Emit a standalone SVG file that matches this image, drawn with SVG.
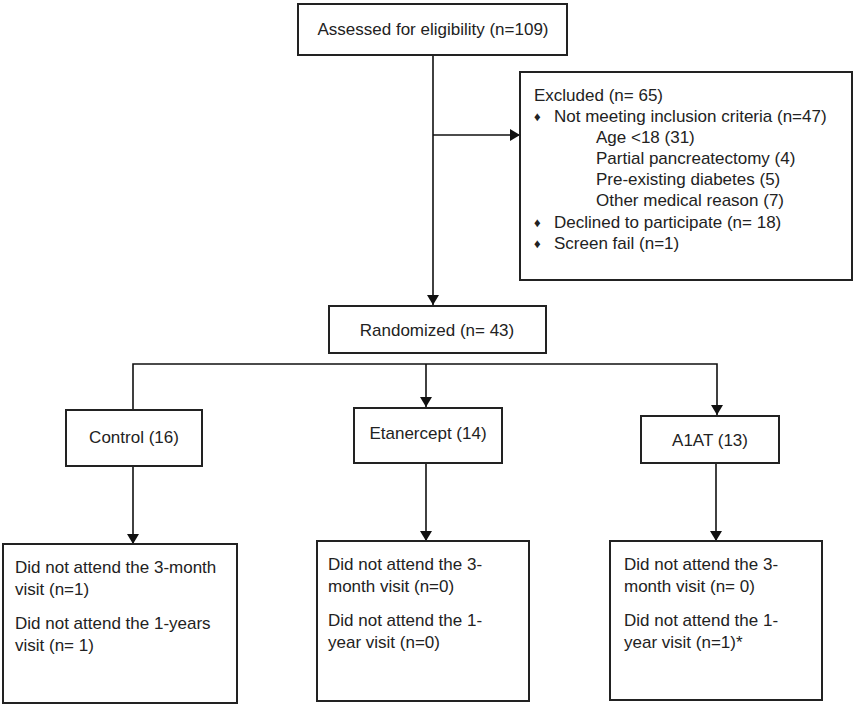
<svg xmlns="http://www.w3.org/2000/svg" width="856" height="708" viewBox="0 0 856 708">
<defs>
<marker id="ah" viewBox="0 0 10 12" refX="10" refY="6" markerWidth="10" markerHeight="12" markerUnits="userSpaceOnUse" orient="auto">
<path d="M0,0 L10,6 L0,12 Z" fill="#111"/>
</marker>
</defs>
<style>
.box{fill:#fff;stroke:#222;stroke-width:2}
.t{font-family:"Liberation Sans",Arial,sans-serif;font-size:17px;fill:#222}
.c{text-anchor:middle}
.b{font-size:13px}
.ln{fill:none;stroke:#111;stroke-width:1.6}
</style>
<rect width="856" height="708" fill="#fff"/>
<g id="connectors">
<line class="ln" x1="433" y1="55" x2="433" y2="305" marker-end="url(#ah)"/>
<line class="ln" x1="433" y1="135" x2="520" y2="135" marker-end="url(#ah)"/>
<polyline class="ln" points="133,409 133,364 717,364 717,415" marker-end="url(#ah)"/>
<line class="ln" x1="426" y1="364" x2="426" y2="407" marker-end="url(#ah)"/>
<line class="ln" x1="133" y1="466" x2="133" y2="544" marker-end="url(#ah)"/>
<line class="ln" x1="426" y1="463" x2="426" y2="541" marker-end="url(#ah)"/>
<line class="ln" x1="716" y1="463" x2="716" y2="541" marker-end="url(#ah)"/>
</g>
<g id="assessed">
<rect class="box" x="298" y="4" width="269" height="51"/>
<text class="t c" x="433" y="35">Assessed for eligibility (n=109)</text>
</g>
<g id="excluded">
<rect class="box" x="520" y="72" width="332" height="208"/>
<text class="t" x="534" y="101">Excluded (n= 65)</text>
<text class="t b" x="534" y="121">♦</text>
<text class="t" x="554" y="122">Not meeting inclusion criteria (n=47)</text>
<text class="t" x="596" y="143">Age &lt;18 (31)</text>
<text class="t" x="596" y="164">Partial pancreatectomy (4)</text>
<text class="t" x="596" y="185">Pre-existing diabetes (5)</text>
<text class="t" x="596" y="206">Other medical reason (7)</text>
<text class="t b" x="534" y="227">♦</text>
<text class="t" x="554" y="228">Declined to participate (n= 18)</text>
<text class="t b" x="534" y="248">♦</text>
<text class="t" x="554" y="249">Screen fail (n=1)</text>
</g>
<g id="randomized">
<rect class="box" x="329" y="306" width="217" height="47"/>
<text class="t c" x="437" y="336">Randomized (n= 43)</text>
</g>
<g id="control">
<rect class="box" x="66" y="410" width="136" height="56"/>
<text class="t c" x="134" y="443">Control (16)</text>
</g>
<g id="etanercept">
<rect class="box" x="354" y="408" width="148" height="55"/>
<text class="t c" x="428" y="439">Etanercept (14)</text>
</g>
<g id="a1at">
<rect class="box" x="641" y="416" width="138" height="47"/>
<text class="t c" x="710" y="446">A1AT (13)</text>
</g>
<g id="control-out">
<rect class="box" x="3" y="544" width="234" height="159"/>
<text class="t" x="15" y="573">Did not attend the 3-month</text>
<text class="t" x="15" y="595">visit (n=1)</text>
<text class="t" x="15" y="629">Did not attend the 1-years</text>
<text class="t" x="15" y="651">visit (n= 1)</text>
</g>
<g id="etanercept-out">
<rect class="box" x="317" y="541" width="212" height="160"/>
<text class="t" x="328" y="570">Did not attend the 3-</text>
<text class="t" x="328" y="592">month visit (n=0)</text>
<text class="t" x="328" y="626">Did not attend the 1-</text>
<text class="t" x="328" y="648">year visit (n=0)</text>
</g>
<g id="a1at-out">
<rect class="box" x="610" y="541" width="212" height="159"/>
<text class="t" x="624" y="570">Did not attend the 3-</text>
<text class="t" x="624" y="592">month visit (n= 0)</text>
<text class="t" x="624" y="626">Did not attend the 1-</text>
<text class="t" x="624" y="648">year visit (n=1)*</text>
</g>
</svg>
